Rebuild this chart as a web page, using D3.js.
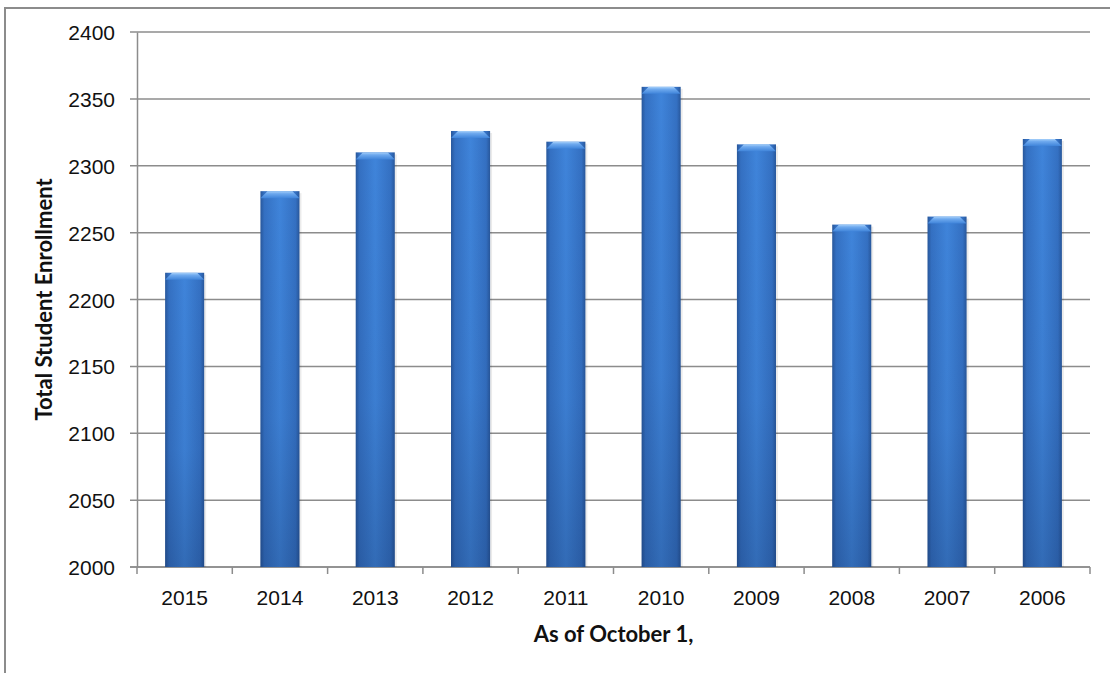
<!DOCTYPE html>
<html>
<head>
<meta charset="utf-8">
<script src="https://cdn.jsdelivr.net/npm/d3@7"></script>
<style>
  body { margin: 0; background: #fff; }
  svg { display: block; font-family: Lato, "Open Sans", sans-serif; }
</style>
</head>
<body>
<svg id="chart" width="1110" height="673"></svg>
<script>
// values
var years = ['2015', '2014', '2013', '2012', '2011', '2010', '2009', '2008', '2007', '2006'];
var enrollment = [2220, 2281, 2310, 2326, 2318, 2359, 2316, 2256, 2262, 2320];
var yTicks = [2000, 2050, 2100, 2150, 2200, 2250, 2300, 2350, 2400];

var data = years.map(function (y, i) { return {year: y, value: enrollment[i]}; });

var margin = {top: 32, right: 20, bottom: 106, left: 137};
var width = 1110 - margin.left - margin.right;
var height = 673 - margin.top - margin.bottom;

var svg = d3.select('#chart');

// outer frame of the chart object
svg.append('rect')
  .attr('x', 5).attr('y', 8)
  .attr('width', 1120).attr('height', 700)
  .style('fill', 'none')
  .style('stroke', '#8c8c8c')
  .style('stroke-width', 2);

var defs = svg.append('defs');

var side = defs.append('linearGradient').attr('id', 'barSide')
  .attr('x1', '0%').attr('x2', '100%').attr('y1', '0%').attr('y2', '0%');
side.append('stop').attr('offset', '0%').attr('stop-color', '#28579b');
side.append('stop').attr('offset', '10%').attr('stop-color', '#3470c2');
side.append('stop').attr('offset', '50%').attr('stop-color', '#3f84da');
side.append('stop').attr('offset', '90%').attr('stop-color', '#3470c2');
side.append('stop').attr('offset', '100%').attr('stop-color', '#28579b');

var shade = defs.append('linearGradient').attr('id', 'barShade')
  .attr('x1', '0%').attr('x2', '0%').attr('y1', '0%').attr('y2', '100%');
shade.append('stop').attr('offset', '0%').attr('stop-color', '#0a1e46').attr('stop-opacity', 0);
shade.append('stop').attr('offset', '60%').attr('stop-color', '#0a1e46').attr('stop-opacity', 0.06);
shade.append('stop').attr('offset', '100%').attr('stop-color', '#0a1e46').attr('stop-opacity', 0.24);

var cap = defs.append('linearGradient').attr('id', 'barCap')
  .attr('x1', '0%').attr('x2', '0%').attr('y1', '0%').attr('y2', '100%');
cap.append('stop').attr('offset', '0%').attr('stop-color', '#a6d0fa');
cap.append('stop').attr('offset', '35%').attr('stop-color', '#6ea9ee');
cap.append('stop').attr('offset', '100%').attr('stop-color', '#3f84da');

var g = svg.append('g')
  .attr('transform', 'translate(' + margin.left + ',' + margin.top + ')');

var x = d3.scaleBand()
  .domain(years)
  .range([0, width])
  .paddingInner(0.59)
  .paddingOuter(0.295);

var y = d3.scaleLinear()
  .domain([2000, 2400])
  .range([height, 0]);

// gridlines
g.append('g')
  .selectAll('line')
  .data(yTicks)
  .enter().append('line')
  .attr('x1', -7).attr('x2', width)
  .attr('y1', function (d) { return y(d); })
  .attr('y2', function (d) { return y(d); })
  .style('stroke', '#8c8c8c')
  .style('stroke-width', 1.5);

// y axis
var yAxis = g.append('g')
  .call(d3.axisLeft(y).tickValues(yTicks).tickSize(0).tickPadding(22).tickFormat(d3.format('d')));
yAxis.select('.domain').style('stroke', '#8c8c8c').style('stroke-width', 1.5);
yAxis.selectAll('text')
  .style('font-size', '21px')
  .style('fill', '#111')
  .attr('dy', '0.36em');

// x axis
var boundaries = d3.range(years.length + 1).map(function (i) { return i * x.step(); });
g.append('g')
  .selectAll('line')
  .data(boundaries)
  .enter().append('line')
  .attr('x1', function (d) { return d; })
  .attr('x2', function (d) { return d; })
  .attr('y1', height).attr('y2', height + 7)
  .style('stroke', '#8c8c8c')
  .style('stroke-width', 1.5);

var xAxis = g.append('g')
  .attr('transform', 'translate(0,' + height + ')')
  .call(d3.axisBottom(x).tickSize(0).tickPadding(23));
xAxis.select('.domain').remove();
xAxis.selectAll('text')
  .style('font-size', '21px')
  .style('fill', '#111');
g.append('line')
  .attr('x1', -7).attr('x2', width)
  .attr('y1', height).attr('y2', height)
  .style('stroke', '#8c8c8c')
  .style('stroke-width', 1.5);

// bars
var bar = g.selectAll('.bar')
  .data(data)
  .enter().append('g')
  .attr('class', 'bar');

bar.append('rect')
  .attr('x', function (d) { return x(d.year) + 2; })
  .attr('y', function (d) { return y(d.value) + 2; })
  .attr('width', x.bandwidth())
  .attr('height', function (d) { return height - y(d.value) - 2; })
  .style('fill', '#000')
  .style('opacity', 0.08);

bar.append('rect')
  .attr('x', function (d) { return x(d.year); })
  .attr('y', function (d) { return y(d.value); })
  .attr('width', x.bandwidth())
  .attr('height', function (d) { return height - y(d.value); })
  .style('fill', 'url(#barSide)');

bar.append('rect')
  .attr('x', function (d) { return x(d.year); })
  .attr('y', function (d) { return y(d.value); })
  .attr('width', x.bandwidth())
  .attr('height', function (d) { return height - y(d.value); })
  .style('fill', 'url(#barShade)');

bar.append('path')
  .attr('d', function (d) {
    var x0 = x(d.year), x1 = x0 + x.bandwidth(), t = y(d.value), b = 7;
    return 'M' + x0 + ',' + (t + b) + 'L' + (x0 + b) + ',' + t +
      'L' + (x1 - b) + ',' + t + 'L' + x1 + ',' + (t + b) + 'Z';
  })
  .style('fill', 'url(#barCap)');

// axis titles
svg.append('text')
  .attr('x', margin.left + width / 2)
  .attr('y', 642)
  .attr('text-anchor', 'middle')
  .style('font-size', '22px')
  .style('font-weight', 'bold')
  .style('fill', '#111')
  .text('As of October 1,');

svg.append('text')
  .attr('transform', 'translate(52,' + (margin.top + height / 2) + ') rotate(-90)')
  .attr('text-anchor', 'middle')
  .style('font-size', '22px')
  .style('font-weight', 'bold')
  .style('fill', '#111')
  .text('Total Student Enrollment');
</script>
</body>
</html>
